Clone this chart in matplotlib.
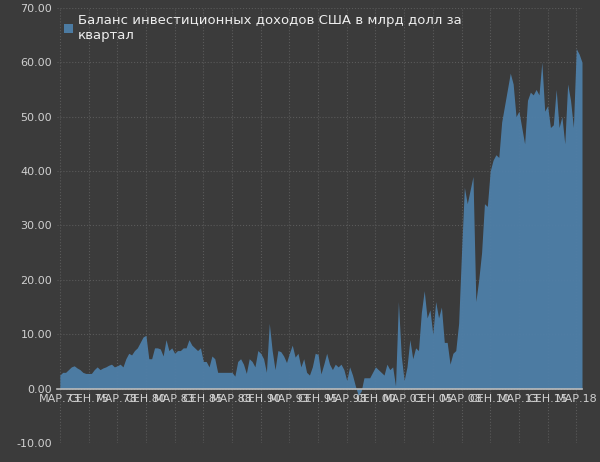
import matplotlib
matplotlib.use("Agg")
import matplotlib.pyplot as plt
import numpy as np

values = [
 2.5,3,3,3.5,4,4.2,3.8,3.5,3,2.8,
 2.8,2.8,3.5,4,3.5,3.8,4,4.3,4.5,4,
 4.2,4.5,4,5.5,6.5,6.2,7,7.5,8.5,9.5,
 9.8,5.5,5.5,7.5,7.5,7.3,6,9,7,7.5,
 6.5,7,7,7.5,7.5,9,8,7.5,7,7.5,
 5,5,4,6,5.5,3,3,3,3,3,
 3,2.3,5,5.5,4.5,2.8,5.5,5,4,7,
 6.5,5.5,3,12,7,3.5,7,6.8,6,4.8,
 6.5,8,5.8,6.5,4,5.5,3,2.5,4,6.5,
 6.3,2.7,4.5,6.5,4.5,3.5,4.5,4,4.5,3.5,
 1.5,4,2.5,0.5,-1.2,-0.5,2,2,2,3,
 4,3.5,3,2.5,4.5,3.5,4,0.5,16,6,
 1.5,4,9,5.5,7.5,7,14,18,13,14.5,
 10,16,13,15,8.5,8.5,4.5,6.5,7,12,
 25,37,34,36.5,39,16,20,25,34,33.5,
 40,42,43,42.5,49,52,55,58,56,50,
 51,48,45,53,54.5,54,55,54,60,51,
 52,48,48.5,55,48,50,45,56,53,48,
 62.5,61.5,60,
]
tick_labels = ["МАР.73","СЕН.75","МАР.78","СЕН.80","МАР.83","СЕН.85","МАР.88","СЕН.90",
               "МАР.93","СЕН.95","МАР.98","СЕН.00","МАР.03","СЕН.05","МАР.08","СЕН.10",
               "МАР.13","СЕН.15","МАР.18"]
label = "Баланс инвестиционных доходов США в млрд долл за\nквартал"

bg = "#3b3b3b"
fig = plt.figure(figsize=(6, 4.62), dpi=100, facecolor=bg)
ax = fig.add_axes([0.095, 0.041, 0.875, 0.942], facecolor=bg)
x = np.arange(len(values))
ax.fill_between(x, values, 0, color="#4e7fa8", alpha=0.95, lw=0, label=label)
ax.set_xlim(-1, len(values) - 1)
ax.set_ylim(-10, 70)
ax.set_yticks(np.arange(-10, 71, 10))
ax.set_yticklabels([f"{v:.2f}" for v in np.arange(-10, 71, 10)])
ax.set_xticks(np.arange(0, len(values), 10))
ax.set_xticklabels(tick_labels, rotation=45, ha="right", rotation_mode="anchor")
ax.grid(True, color="#5a5a5a", ls=":", lw=0.8)
ax.set_axisbelow(True)
for s in ax.spines.values():
    s.set_visible(False)
ax.spines["bottom"].set_visible(True)
ax.spines["bottom"].set_position(("data", 0))
ax.spines["bottom"].set_color("#bbbbbb")
ax.spines["bottom"].set_linewidth(1.2)
ax.tick_params(colors="#d0d0d0", labelsize=8, length=0)
ax.tick_params(axis="x", pad=4)
ax.legend(loc="upper left", frameon=False, fontsize=9.5, labelcolor="#eeeeee",
          handlelength=0.7, handleheight=0.7, borderaxespad=0.1, handletextpad=0.4)
fig.savefig("out.png", dpi=100, facecolor=bg)
